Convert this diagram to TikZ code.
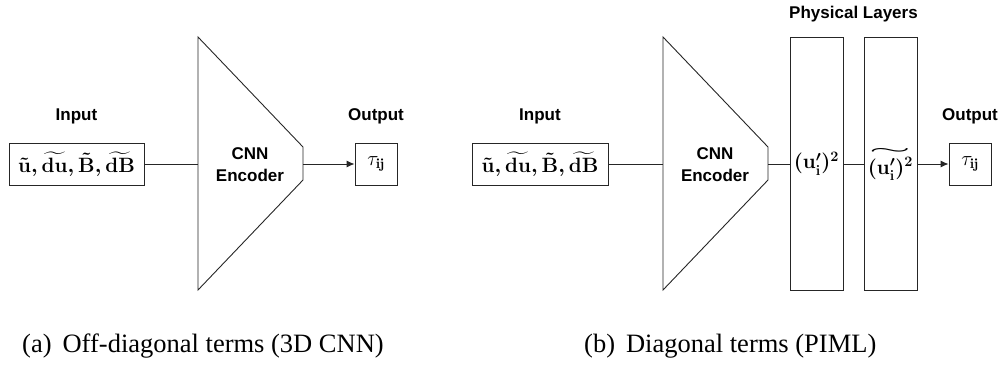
\documentclass[tikz,border=0pt]{standalone}
\usepackage{amsmath}
\usepackage{fontspec}
\setsansfont{Liberation Sans}
\newfontfamily\capfont{Liberation Serif}
\usetikzlibrary{arrows.meta}
\begin{document}
\begin{tikzpicture}[x=1pt,y=-1pt,
  lbl/.style={font=\sffamily\bfseries\fontsize{17}{22}\selectfont, inner sep=0, align=center},
  box/.style={draw=black!85, line width=0.9pt, inner sep=0},
  conn/.style={draw=black!85, line width=0.9pt},
  arr/.style={conn, -{Latex[length=8pt,width=7pt]}},
  mth/.style={font=\fontsize{20}{24}\selectfont\boldmath},
  mthn/.style={font=\fontsize{20}{24}\selectfont},
  captxt/.style={font=\capfont\fontsize{26.5}{30}\selectfont, inner sep=0, anchor=base west}]
\useasboundingbox (0,0) rectangle (1006,376);

% ---------- panel (a) ----------
\node[box, mth, minimum width=135pt, minimum height=42pt] (inA) at (76.5,164)
  {$\tilde{\mathbf u}, \widetilde{\mathbf{du}}, \tilde{\mathbf B}, \widetilde{\mathbf{dB}}$};
\node[lbl] (inAlbl) at (76.5,116) {Input};
\draw[conn] (198,37) coordinate (encAtl) -- (303,147) -- (303,180) -- (198,290) -- cycle;
\coordinate (encAin) at (198,164);
\coordinate (encAout) at (303,164);
\node[lbl] (encAtxt) at (250,165) {CNN\\Encoder};
\node[box, mthn, minimum width=42pt, minimum height=42pt] (outA) at (376,164) {$\tau_{\mathbf{ij}}$};
\node[lbl] (outAlbl) at (376,116) {Output};
\draw[conn] (inA.east) -- (encAin);
\draw[arr] (encAout) -- (outA.west);

% ---------- panel (b) ----------
\node[box, mth, minimum width=136pt, minimum height=42pt] (inB) at (540,164)
  {$\tilde{\mathbf u}, \widetilde{\mathbf{du}}, \tilde{\mathbf B}, \widetilde{\mathbf{dB}}$};
\node[lbl] (inBlbl) at (540,116) {Input};
\draw[conn] (663,37) -- (768,147) -- (768,180) -- (663,290) -- cycle;
\coordinate (encBin) at (663,164);
\coordinate (encBout) at (768,164);
\node[lbl] (encBtxt) at (715,165) {CNN\\Encoder};
\node[box, mth, minimum width=53pt, minimum height=253pt] (L1) at (816.5,163.5)
  {$(\mathbf u'_{\mathbf i})^{2}$};
\node[box, mth, minimum width=53pt, minimum height=253pt] (L2) at (890.5,163.5)
  {$\overset{\resizebox{42pt}{5pt}{$\sim$}}{(\mathbf u'_{\mathbf i})^{2}}$};
\node[lbl] (physlbl) at (853.5,14) {Physical Layers};
\node[box, mthn, minimum width=42pt, minimum height=42pt] (outB) at (970,164) {$\tau_{\mathbf{ij}}$};
\node[lbl] (outBlbl) at (970,116) {Output};
\draw[conn] (inB.east) -- (encBin);
\draw[conn] (encBout) -- (encBout -| L1.west);
\draw[conn] (L1.east |- 0,164) -- (L2.west |- 0,164);
\draw[arr] (L2.east |- 0,164) -- (outB.west);

% ---------- captions ----------
\node[captxt] (capA) at (22,352) {(a)\hspace{11pt}Off-diagonal terms (3D CNN)};
\node[captxt] (capB) at (584,352) {(b)\hspace{11pt}Diagonal terms (PIML)};
\end{tikzpicture}
\end{document}
